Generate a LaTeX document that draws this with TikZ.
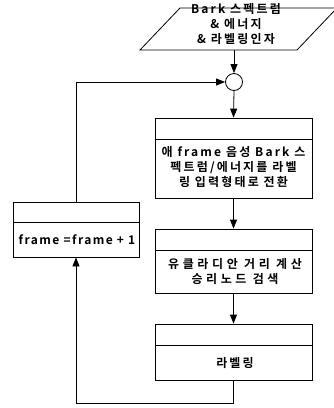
\documentclass[tikz,border=0pt]{standalone}
\usepackage{fontspec}
\setmainfont{Noto Sans CJK KR}[BoldFont={Noto Sans CJK KR Bold}]
\newfontfamily\boxfont{Noto Sans CJK KR Bold}[LetterSpace=18]
\newfontfamily\widefont{Noto Sans CJK KR Bold}[LetterSpace=30]
\newfontfamily\framefont{Noto Sans CJK KR Bold}[LetterSpace=12]
\usetikzlibrary{arrows.meta}
\begin{document}
\begin{tikzpicture}[x=1pt,y=-1pt,
  box/.style={draw,line width=0.8pt,minimum width=157pt,inner sep=0pt},
  txt/.style={font=\boxfont\fontsize{12}{15}\selectfont,align=center,inner sep=0pt},
  arr/.style={line width=0.8pt,-{Triangle[length=9pt,width=7pt]}},
  ln/.style={line width=0.8pt}]
\useasboundingbox (0,0) rectangle (334,408);
% parallelogram input
\coordinate (pbl) at (140,50);
\coordinate (pbr) at (297,50);
\coordinate (ptr) at (337,8);
\coordinate (ptl) at (180,8);
\draw[ln] (pbl) -- (pbr) -- (ptr) -- (ptl) -- cycle;
\node[txt] (input) at (236,24) {Bark 스펙트럼\\\& 에너지\\\& 라벨링인자};
\coordinate (pbot) at (234,50);
% junction circle
\node[draw,circle,line width=0.8pt,minimum size=17pt,inner sep=0pt] (junc) at (234,82) {};
% box 1
\node[box,minimum height=80pt] (b1) at (233.5,158) {};
\draw[ln] (155,139) -- (312,139);
\node[txt] (t1) at (233.5,167.5) {애 frame 음성 Bark 스\\펙트럼/에너지를 라벨\\링 입력형태로 전환};
% box 2
\node[box,minimum height=64pt] (b2) at (233.5,261) {};
\draw[ln] (155,250) -- (312,250);
\node[txt,font=\widefont\fontsize{12}{15}\selectfont] (t2) at (235,272) {유클라디안 거리 계산\\승리노드 검색};
% box 3
\node[box,minimum height=56pt] (b3) at (233.5,352) {};
\draw[ln] (155,345) -- (312,345);
\node[txt] (t3) at (235,363) {라벨링};
% frame box
\node[box,minimum width=126pt,minimum height=55pt] (fb) at (76,229.5) {};
\draw[ln] (13,222) -- (139,222);
\node[txt,font=\framefont\fontsize{12}{15}\selectfont] (tf) at (77,240) {frame =frame + 1};
% connectors
\draw[arr] (pbot) -- (junc.north);
\draw[arr] (junc.south) -- (b1.north);
\draw[arr] (b1.south) -- (b2.north);
\draw[arr] (b2.south) -- (b3.north);
\coordinate (lb) at (233.5,403);
\coordinate (lc) at (76,403);
\draw[arr] (b3.south) -- (lb) -- (lc) -- (fb.south);
\coordinate (lt) at (76,82);
\draw[arr] (fb.north) -- (lt) -- (junc.west);
\end{tikzpicture}
\end{document}
